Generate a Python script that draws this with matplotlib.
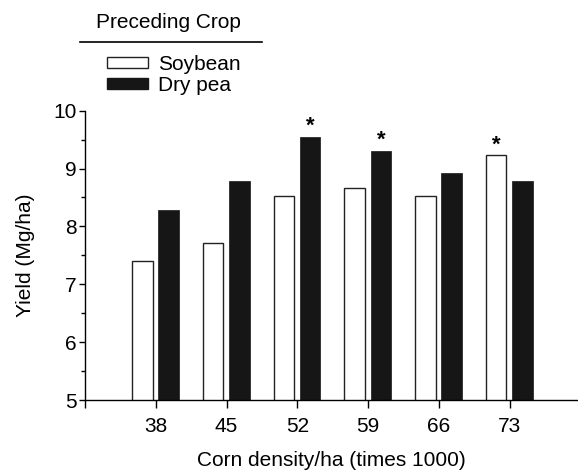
import matplotlib
matplotlib.use("Agg")
import matplotlib.pyplot as plt
from matplotlib.lines import Line2D
from matplotlib.patches import Patch
import numpy as np

plt.rcParams['font.family'] = ['Liberation Sans', 'DejaVu Sans']

density = [38, 45, 52, 59, 66, 73]
soybean = [7.41, 7.72, 8.53, 8.66, 8.53, 9.23]
dry_pea = [8.28, 8.79, 9.55, 9.30, 8.92, 8.79]
# which bar of each pair carries the significance star
star_series = [None, None, "dry_pea", "dry_pea", None, "soybean"]

x = np.arange(len(density))
w = 0.29
fs = 15

fig = plt.figure(figsize=(5.78, 4.72), dpi=100)
ax = fig.add_axes([0.147, 0.1525, 0.851, 0.613])

ax.bar(x - 0.19, soybean, w, color="white", edgecolor="#222222", linewidth=1.0)
ax.bar(x + 0.18, dry_pea, w, color="#161616", edgecolor="#161616", linewidth=0.5)

for i, s in enumerate(star_series):
    if s == "dry_pea":
        ax.annotate("*", (x[i] + 0.18, dry_pea[i]), xytext=(0, 0), textcoords="offset points",
                    ha="center", va="bottom", fontsize=16, fontweight="bold")
    elif s == "soybean":
        ax.annotate("*", (x[i] - 0.19, soybean[i]), xytext=(0, 0), textcoords="offset points",
                    ha="center", va="bottom", fontsize=16, fontweight="bold")

ax.set_ylim(5, 10)
ax.set_xlim(-1.0, 5.95)
ax.set_yticks([5, 6, 7, 8, 9, 10])
ax.set_yticks(np.arange(5.5, 10, 1.0), minor=True)
ax.set_xticks([-1] + list(x))
ax.set_xticklabels([""] + [str(d) for d in density])

for side in ["top", "right"]:
    ax.spines[side].set_visible(False)
ax.spines["left"].set_linewidth(1.0)
ax.spines["bottom"].set_linewidth(1.0)
ax.tick_params(axis="x", direction="out", length=6, width=1.0, labelsize=fs, pad=6)
ax.tick_params(axis="y", which="major", direction="out", length=4, width=1.0, labelsize=fs, pad=2)
ax.tick_params(axis="y", which="minor", direction="out", length=3, width=1.0)

ax.set_xlabel("Corn density/ha (times 1000)", fontsize=fs, labelpad=11)
ax.set_ylabel("Yield (Mg/ha)", fontsize=fs, labelpad=13)

# legend header with underline
fig.text(168 / 578, 1 - 22 / 472, "Preceding Crop", ha="center", va="center", fontsize=fs)
fig.add_artist(Line2D([80 / 578, 262 / 578], [1 - 42 / 472, 1 - 42 / 472],
                      color="black", linewidth=1.2, transform=fig.transFigure))

handles = [Patch(facecolor="white", edgecolor="#222222", linewidth=1.0),
           Patch(facecolor="#161616", edgecolor="#161616")]
ax.legend(handles, ["Soybean", "Dry pea"], loc="upper left",
          bbox_to_anchor=(107 / 578, 1 - 55 / 472), bbox_transform=fig.transFigure,
          frameon=False, fontsize=fs, handlelength=1.95, handleheight=0.45,
          handletextpad=0.5, labelspacing=0.1, borderaxespad=0, borderpad=0)

fig.savefig("out.png", dpi=100)
